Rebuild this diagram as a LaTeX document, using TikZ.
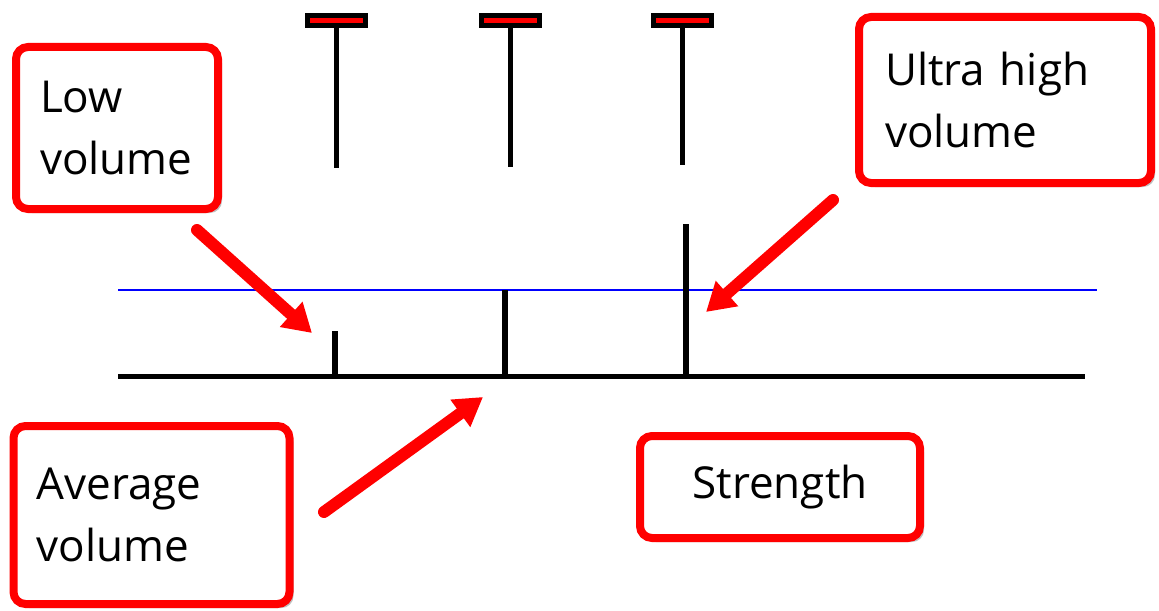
\documentclass[tikz,border=0pt]{standalone}
\usepackage{fontspec}
\setmainfont{Open Sans}
\usetikzlibrary{arrows.meta,shadows}

\begin{document}
\begin{tikzpicture}[x=0.5pt, y=-0.5pt,
  notebox/.style={draw=red, line width=4pt, rounded corners=6pt, fill=white,
    drop shadow={shadow xshift=2pt, shadow yshift=-2pt, fill=black!50},
    font=\fontsize{22}{31}\selectfont, align=left, inner ysep=0pt},
  pointer/.style={draw=red, line width=6pt, line cap=round, -{Triangle[length=14pt, width=16pt]}},
  tbar/.style={draw=black, fill=red, line width=2.5pt, minimum width=29pt, minimum height=5pt, inner sep=0pt},
  stem/.style={draw=black, line width=2.5pt},
  bar/.style={draw=black, line width=3pt}]
	\useasboundingbox (0,0) rectangle (1159,610);
	
	% axes
	\coordinate (base0) at (118,376);
	\coordinate (base1) at (1085,376);
	\coordinate (avg0) at (118,290);
	\coordinate (avg1) at (1097,290);
	\path[draw=black, line width=2.5pt] (base0) -- (base1);
	\path[draw=blue, line width=1pt] (avg0) -- (avg1);
	
	% volume bars
	\coordinate (low0) at (335,376);
	\coordinate (low1) at (335,331);
	\coordinate (mid0) at (505,376);
	\coordinate (mid1) at (505,290);
	\coordinate (high0) at (686,376);
	\coordinate (high1) at (686,224);
	\path[bar] (low0) -- (low1);
	\path[bar] (mid0) -- (mid1);
	\path[bar] (high0) -- (high1);
	
	% price bars
	\node[tbar] (t1) at (336,20.5){};
	\node[tbar] (t2) at (510,20.5){};
	\node[tbar] (t3) at (682,20.5){};
	\coordinate (s1) at (336,168);
	\coordinate (s2) at (510,167);
	\coordinate (s3) at (682,165);
	\path[stem] (t1.south) -- (s1);
	\path[stem] (t2.south) -- (s2);
	\path[stem] (t3.south) -- (s3);
	
	% labels
	\node[notebox, text width=77pt, inner xsep=12pt, minimum height=81pt] (lowbox) at (117,128){Low\\volume};
	\node[notebox, text width=120pt, inner xsep=13pt, minimum height=83pt] (highbox) at (1005,100){Ultra high\\volume};
	\node[notebox, text width=115pt, inner xsep=11.5pt, minimum height=89pt] (avgbox) at (151.5,515){Average\\volume};
	\node[notebox, text width=116pt, inner xsep=12pt, minimum height=51pt, align=center] (strbox) at (780,487){Strength};
	
	% pointers
	\coordinate (p1) at (197,230);
	\coordinate (q1) at (312,333);
	\coordinate (p2) at (833,200);
	\coordinate (q2) at (706,312);
	\coordinate (p3) at (324,512);
	\coordinate (q3) at (483,397);
	\path[pointer] (p1) -- (q1);
	\path[pointer] (p2) -- (q2);
	\path[pointer] (p3) -- (q3);
\end{tikzpicture}
\end{document}
